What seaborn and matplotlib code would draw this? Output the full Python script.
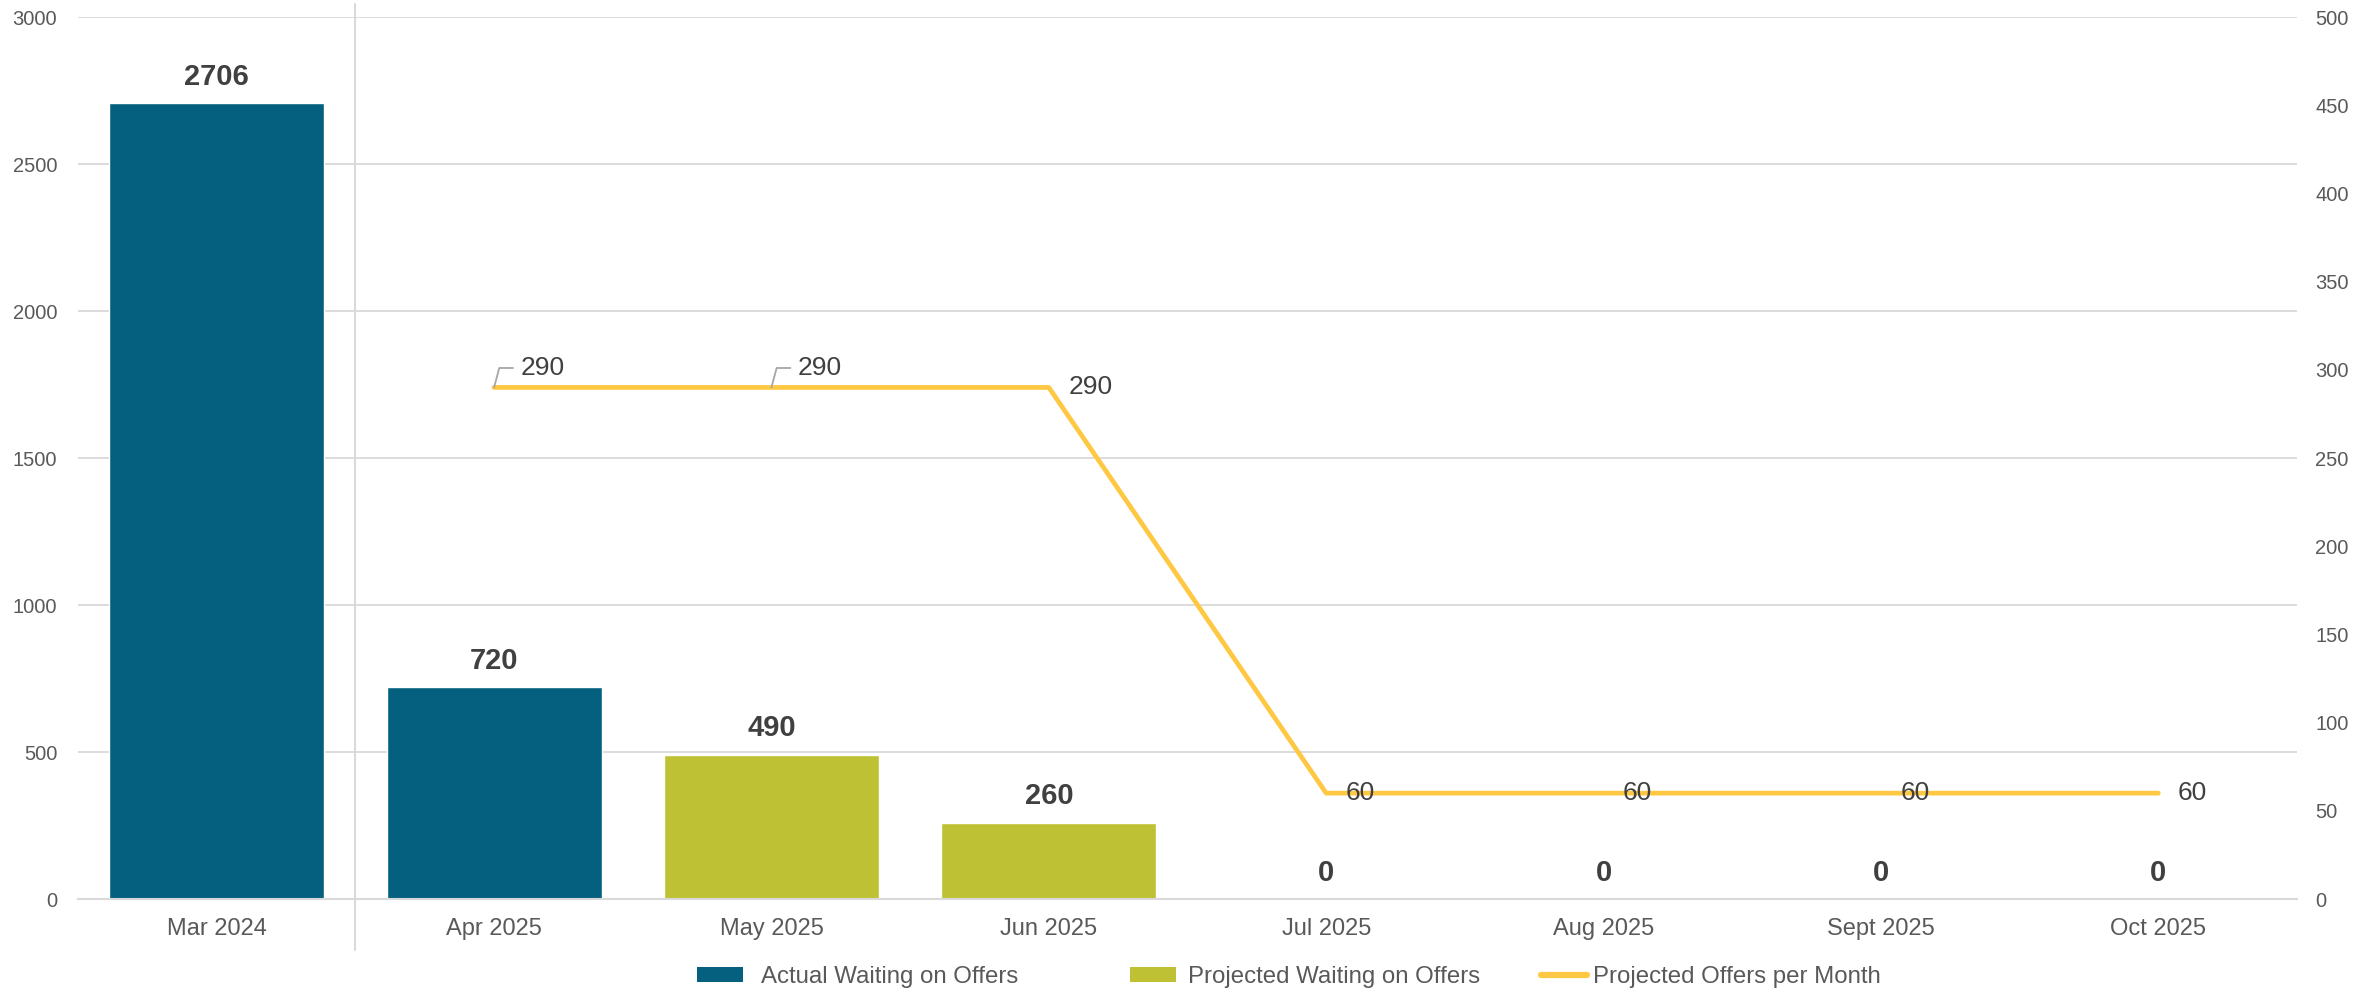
import numpy as np
import pandas as pd
import matplotlib
matplotlib.use("Agg")
import matplotlib.pyplot as plt
import seaborn as sns
from matplotlib.patches import Patch
from matplotlib.lines import Line2D
import matplotlib.transforms as mtransforms

# ---------------- data ----------------
months = ["Mar 2024", "Apr 2025", "May 2025", "Jun 2025", "Jul 2025", "Aug 2025", "Sept 2025", "Oct 2025"]
bar_values = [2706, 720, 490, 260, 0, 0, 0, 0]
bar_series = ["Actual Waiting on Offers", "Actual Waiting on Offers",
              "Projected Waiting on Offers", "Projected Waiting on Offers",
              "Projected Waiting on Offers", "Projected Waiting on Offers",
              "Projected Waiting on Offers", "Projected Waiting on Offers"]
line_months = ["Apr 2025", "May 2025", "Jun 2025", "Jul 2025", "Aug 2025", "Sept 2025", "Oct 2025"]
line_values = [290, 290, 290, 60, 60, 60, 60]
line_name = "Projected Offers per Month"
left_ticks = [0, 500, 1000, 1500, 2000, 2500, 3000]
right_ticks = [0, 50, 100, 150, 200, 250, 300, 350, 400, 450, 500]

# ---------------- style ----------------
C_ACT = "#05607F"
C_PROJ = "#BDC133"
C_LINE = "#FFC843"
C_TICK = "#595959"
C_LAB = "#404040"
C_GRID = "#D9D9D9"

sns.set_style("white")
plt.rcParams["font.family"] = ["Liberation Sans", "DejaVu Sans"]

fig = plt.figure(figsize=(23.57, 9.97), dpi=100)
ax = fig.add_axes([78/2357, 1-899/997, (2297-78)/2357, (899-17)/997])

df = pd.DataFrame({"month": months, "value": bar_values, "series": bar_series})
sns.barplot(data=df, x="month", y="value", hue="series", order=months,
            hue_order=["Actual Waiting on Offers", "Projected Waiting on Offers"],
            palette=[C_ACT, C_PROJ], dodge=False, width=0.775, saturation=1,
            legend=False, ax=ax)

for cont in ax.containers:
    ax.bar_label(cont, fmt="%d", padding=9, fontsize=21, fontweight="bold", color=C_LAB)

ax.set_ylim(0, 3000)
ax.set_xlim(-0.5, len(months) - 0.5)
ax.set_yticks(left_ticks)
ax.set_xlabel("")
ax.set_ylabel("")
ax.yaxis.grid(True, color=C_GRID, lw=1.3)
ax.set_axisbelow(True)
for s in ["left", "right", "top"]:
    ax.spines[s].set_visible(False)
ax.spines["bottom"].set_color(C_GRID)
ax.spines["bottom"].set_linewidth(1.5)
ax.tick_params(axis="y", length=0, pad=15, labelsize=14.5, labelcolor=C_TICK)
ax.tick_params(axis="x", which="major", length=0, pad=14, labelsize=17, labelcolor=C_TICK)
ax.set_xticks(np.arange(-0.5, len(months), 1.0), minor=True)
ax.tick_params(axis="x", which="minor", length=7, width=1.5, color=C_GRID)

# divider between actual (2024) and 2025 months
trans = mtransforms.blended_transform_factory(ax.transData, ax.transAxes)
ax.plot([0.5, 0.5], [-0.058, 1.015], transform=trans, color=C_GRID, lw=1.5, clip_on=False, zorder=0)

# ---------------- line on secondary axis ----------------
ax2 = ax.twinx()
line_x = [months.index(m) for m in line_months]
ldf = pd.DataFrame({"x": line_x, "y": line_values})
sns.lineplot(data=ldf, x="x", y="y", ax=ax2, color=C_LINE, lw=3.4,
             solid_capstyle="round", solid_joinstyle="round")
ax2.set_ylim(0, 500)
ax2.set_yticks(right_ticks)
ax2.set_ylabel("")
ax2.set_xlabel("")
ax2.grid(False)
for s in ["left", "right", "top", "bottom"]:
    ax2.spines[s].set_visible(False)
ax2.tick_params(axis="y", length=0, pad=13, labelsize=14.5, labelcolor=C_TICK)
ax.set_xlim(-0.5, len(months) - 0.5)

for i, (x, y) in enumerate(zip(line_x, line_values)):
    if i < 2:
        ax2.annotate(f"{y}", xy=(x, y), xytext=(19, 14), textcoords="offset points",
                     fontsize=19, color=C_LAB, ha="left", va="center",
                     arrowprops=dict(arrowstyle="-", color="#A6A6A6", lw=1.3,
                                     shrinkA=3, shrinkB=0,
                                     connectionstyle="angle,angleA=180,angleB=75,rad=0",
                                     relpos=(0, 0.5)))
    else:
        ax2.annotate(f"{y}", xy=(x, y), xytext=(14, 0), textcoords="offset points",
                     fontsize=19, color=C_LAB, ha="left", va="center")

# ---------------- legend ----------------
ly = 1 - 977/997
entries = [
    (Patch(facecolor=C_ACT, edgecolor="none"), "Actual Waiting on Offers", 697/2357, 0.75),
    (Patch(facecolor=C_PROJ, edgecolor="none"), "Projected Waiting on Offers", 1130/2357, 0.5),
    (Line2D([0], [0], color=C_LINE, lw=4.5, solid_capstyle="round"), line_name, 1541/2357, 0.25),
]
for h, lab, lx, pad in entries:
    fig.legend([h], [lab], loc="center left", bbox_to_anchor=(lx, ly), frameon=False,
               fontsize=17.3, labelcolor=C_TICK, handlelength=1.9, handleheight=0.6,
               handletextpad=pad, borderpad=0, borderaxespad=0)

fig.savefig("out.png", dpi=100, facecolor="white")
